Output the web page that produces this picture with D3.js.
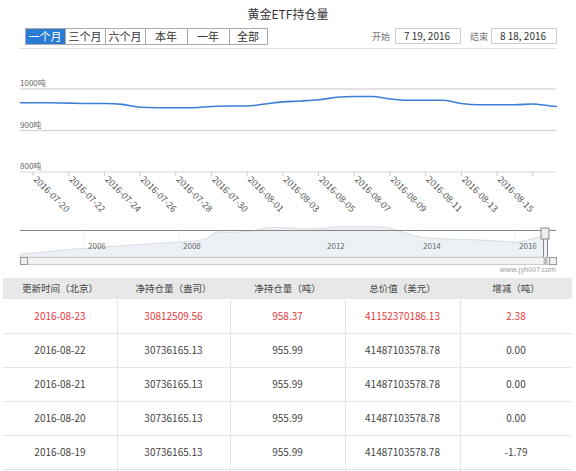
<!DOCTYPE html>
<html><head><meta charset="utf-8">
<script src="https://d3js.org/d3.v7.min.js"></script>
<style>body{margin:0;background:#fff;font-family:"Noto Sans CJK SC","Noto Sans",sans-serif}</style>
</head><body><svg id="c" width="576" height="471"></svg>
<script>
const dates = ["2016-07-19","2016-07-20","2016-07-21","2016-07-22","2016-07-23","2016-07-24","2016-07-25","2016-07-26","2016-07-27","2016-07-28","2016-07-29","2016-07-30","2016-07-31","2016-08-01","2016-08-02","2016-08-03","2016-08-04","2016-08-05","2016-08-06","2016-08-07","2016-08-08","2016-08-09","2016-08-10","2016-08-11","2016-08-12","2016-08-13","2016-08-14","2016-08-15","2016-08-16","2016-08-17","2016-08-18","2016-08-19"];
const tons = [967,967,967,966,965,965,963,956,955,955,955,958,959,959,964,969,971,974,980,982,982,976,973,973,973,965,962,962,962,964,959,956];
const tickLabels = ["2016-07-20","2016-07-22","2016-07-24","2016-07-26","2016-07-28","2016-07-30","2016-08-01","2016-08-03","2016-08-05","2016-08-07","2016-08-09","2016-08-11","2016-08-13","2016-08-15"];
const yTicks = [800,900,1000];
const navYears = [2004.9,2005.5,2006,2006.5,2007,2007.5,2008,2008.5,2009,2009.3,2009.5,2010,2010.5,2011,2011.5,2012,2012.5,2013,2013.3,2013.6,2014,2014.5,2015,2015.5,2015.9,2016.3,2016.6];
const navTons = [120,230,330,400,470,540,600,660,780,1100,1080,1130,1290,1260,1240,1330,1330,1300,1150,950,820,780,750,700,650,820,960];
const navYearLabels = [2006,2008,2012,2014,2016];
const buttons = ["一个月","三个月","六个月","本年","一年","全部"];
const headers = ["更新时间（北京）","净持仓量（盎司）","净持仓量（吨）","总价值（美元）","增减（吨）"];
const rows = [
 ["2016-08-23","30812509.56","958.37","41152370186.13","2.38"],
 ["2016-08-22","30736165.13","955.99","41487103578.78","0.00"],
 ["2016-08-21","30736165.13","955.99","41487103578.78","0.00"],
 ["2016-08-20","30736165.13","955.99","41487103578.78","0.00"],
 ["2016-08-19","30736165.13","955.99","41487103578.78","-1.79"]];

const svg = d3.select("#c");
const P = d3.timeParse("%Y-%m-%d");
svg.append("text").attr("x",288).attr("y",19).attr("text-anchor","middle").attr("font-size",12).attr("fill","#333").text("黄金ETF持仓量");
let bx=25;
buttons.forEach((b,i)=>{
  const w = i<3?40:i<5?42:38;
  svg.append("rect").attr("x",bx+0.5).attr("y",28.5).attr("width",w).attr("height",16).attr("fill",i==0?"#2a7bd6":"#fff").attr("stroke","#aaa");
  svg.append("text").attr("x",bx+w/2).attr("y",41).attr("text-anchor","middle").attr("font-size",11).attr("fill",i==0?"#fff":"#333").text(b);
  bx+=w;
});
[[372,"开始",395,"7 19, 2016"],[470,"结束",491,"8 18, 2016"]].forEach(d=>{
  svg.append("text").attr("x",d[0]).attr("y",40).attr("font-size",9).attr("fill","#777").text(d[1]);
  svg.append("rect").attr("x",d[2]+.5).attr("y",28.5).attr("width",65).attr("height",15).attr("fill","#fff").attr("stroke","#ccc");
  svg.append("text").attr("x",d[2]+32).attr("y",40).attr("text-anchor","middle").attr("font-size",10).attr("fill","#333").text(d[3]);
});
svg.append("line").attr("x1",20).attr("x2",556).attr("y1",48.5).attr("y2",48.5).attr("stroke","#ddd");

const x = d3.scaleTime().domain([P("2016-07-20"),P("2016-08-15")]).range([33,497]);
const y = d3.scaleLinear().domain([800,1000]).range([172,89]);
yTicks.forEach(t=>{
  svg.append("line").attr("x1",20).attr("x2",556).attr("y1",y(t)).attr("y2",y(t)).attr("stroke","#d8d8d8").attr("stroke-width",t==800?1:1.5);
  svg.append("text").attr("x",20).attr("y",y(t)-3).attr("font-size",8).attr("fill","#666").text(t+"吨");
});
const ds = dates.map((d,i)=>[P(d),tons[i]]);
svg.append("defs").append("clipPath").attr("id","cp").append("rect").attr("x",20).attr("y",50).attr("width",537).attr("height",130);
svg.append("path").attr("clip-path","url(#cp)").attr("d",d3.line().x(d=>x(d[0])).y(d=>y(d[1])).curve(d3.curveMonotoneX)(ds)).attr("fill","none").attr("stroke","#3b7fd4").attr("stroke-width",1.6);
tickLabels.forEach(t=>{
  const px=x(P(t));
  svg.append("line").attr("x1",px).attr("x2",px).attr("y1",172).attr("y2",176).attr("stroke","#ccc");
  svg.append("text").attr("transform",`translate(${px},${180}) rotate(45)`).attr("font-size",9).attr("fill","#555").text(t);
});
const xe=x(P("2016-08-17"));
svg.append("line").attr("x1",xe).attr("x2",xe).attr("y1",172).attr("y2",176).attr("stroke","#ccc");
// navigator
const nx = d3.scaleLinear().domain([2004.9,2016.65]).range([20,550]);
const ny = d3.scaleLinear().domain([0,1400]).range([257,225]);
svg.append("path").attr("d",d3.area().x((d,i)=>nx(navYears[i])).y0(257).y1((d)=>ny(d)).curve(d3.curveMonotoneX)(navTons)).attr("fill","#edf1f6").attr("stroke","#d5dde6");
navYearLabels.forEach(yy=>{
  const px = yy==2006?96:yy==2008?191:yy==2012?335:yy==2014?431:527;
  svg.append("line").attr("x1",px-12).attr("x2",px-12).attr("y1",230).attr("y2",257).attr("stroke","#eee");
  svg.append("text").attr("x",px-8).attr("y",249).attr("font-size",8).attr("fill","#666").text(yy);
});
svg.append("path").attr("d","M20,230.5H543.5V257 M547.5,257V230.5H556").attr("fill","none").attr("stroke","#888");
svg.append("rect").attr("x",541).attr("y",228).attr("width",8).attr("height",11).attr("fill","#eee").attr("stroke","#888");
svg.append("rect").attr("x",20.5).attr("y",257.5).attr("width",536).attr("height",7).attr("fill","#f2f2f2").attr("stroke","#ccc");
svg.append("rect").attr("x",20.5).attr("y",257.5).attr("width",7).attr("height",7).attr("fill","#eee").attr("stroke","#999");
svg.append("rect").attr("x",549.5).attr("y",257.5).attr("width",7).attr("height",7).attr("fill","#eee").attr("stroke","#999");
svg.append("rect").attr("x",543.5).attr("y",257.5).attr("width",4).attr("height",7).attr("fill","#bbb");
svg.append("text").attr("x",556).attr("y",272).attr("text-anchor","end").attr("font-size",7).attr("fill","#999").text("www.jyh007.com");
// table
const cols=[3,117,230,345,460,572];
svg.append("rect").attr("x",3).attr("y",278).attr("width",569).attr("height",21).attr("fill","#e8e8e8");
headers.forEach((h,i)=>svg.append("text").attr("x",(cols[i]+cols[i+1])/2).attr("y",292).attr("text-anchor","middle").attr("font-size",9.5).attr("fill","#444").text(h));
rows.forEach((r,ri)=>{
  const cy=316+ri*34;
  svg.append("line").attr("x1",3).attr("x2",572).attr("y1",cy+17.5).attr("y2",cy+17.5).attr("stroke","#e6e6e6");
  r.forEach((v,i)=>svg.append("text").attr("x",(cols[i]+cols[i+1])/2).attr("y",cy+4).attr("text-anchor","middle").attr("font-size",10).attr("fill",ri==0?"#e8393d":"#444").text(v));
});
cols.slice(1,5).forEach(c=>svg.append("line").attr("x1",c+.5).attr("x2",c+.5).attr("y1",299).attr("y2",471).attr("stroke","#e6e6e6"));
</script></body></html>
